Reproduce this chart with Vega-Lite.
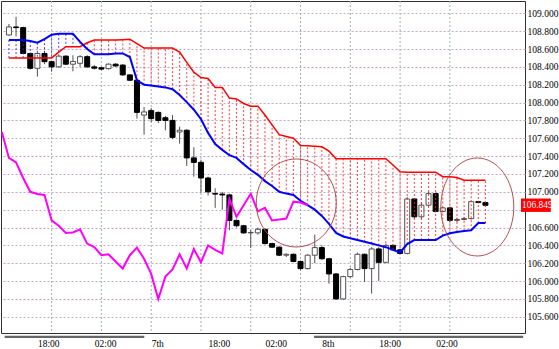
{
  "$schema": "https://vega.github.io/schema/vega-lite/v6.json",
  "width": 524,
  "height": 332,
  "autosize": "none",
  "padding": {"left": 1, "top": 1, "right": 34, "bottom": 16},
  "background": "white",
  "config": {
    "view": {"stroke": "#303030", "strokeWidth": 1},
    "axis": {"labelFont": "Liberation Serif", "labelFontSize": 9.5, "labelColor": "#000000"}
  },
  "datasets": {
    "candles": [
      {"i":0,"o":108.757,"h":108.88,"l":108.75,"c":108.847,"a":108.70,"b":108.50},
      {"i":1,"o":108.847,"h":108.96,"l":108.74,"c":108.84,"a":108.70,"b":108.50},
      {"i":2,"o":108.84,"h":108.85,"l":108.54,"c":108.55,"a":108.70,"b":108.50},
      {"i":3,"o":108.55,"h":108.56,"l":108.37,"c":108.384,"a":108.69,"b":108.50},
      {"i":4,"o":108.384,"h":108.56,"l":108.29,"c":108.55,"a":108.67,"b":108.50},
      {"i":5,"o":108.55,"h":108.58,"l":108.43,"c":108.458,"a":108.71,"b":108.50},
      {"i":6,"o":108.458,"h":108.47,"l":108.345,"c":108.40,"a":108.76,"b":108.50},
      {"i":7,"o":108.40,"h":108.54,"l":108.39,"c":108.52,"a":108.77,"b":108.565},
      {"i":8,"o":108.52,"h":108.53,"l":108.42,"c":108.43,"a":108.77,"b":108.626},
      {"i":9,"o":108.43,"h":108.53,"l":108.35,"c":108.46,"a":108.77,"b":108.626},
      {"i":10,"o":108.44,"h":108.53,"l":108.40,"c":108.514,"a":108.68,"b":108.626},
      {"i":11,"o":108.514,"h":108.53,"l":108.39,"c":108.40,"a":108.60,"b":108.67},
      {"i":12,"o":108.40,"h":108.42,"l":108.37,"c":108.385,"a":108.54,"b":108.70},
      {"i":13,"o":108.39,"h":108.40,"l":108.36,"c":108.375,"a":108.54,"b":108.70},
      {"i":14,"o":108.38,"h":108.44,"l":108.37,"c":108.43,"a":108.54,"b":108.70},
      {"i":15,"o":108.43,"h":108.44,"l":108.40,"c":108.41,"a":108.55,"b":108.70},
      {"i":16,"o":108.42,"h":108.43,"l":108.30,"c":108.31,"a":108.55,"b":108.705},
      {"i":17,"o":108.31,"h":108.32,"l":108.24,"c":108.25,"a":108.51,"b":108.71},
      {"i":18,"o":108.25,"h":108.26,"l":107.82,"c":107.89,"a":108.25,"b":108.66},
      {"i":19,"o":107.86,"h":107.95,"l":107.64,"c":107.895,"a":108.20,"b":108.61},
      {"i":20,"o":107.91,"h":107.94,"l":107.78,"c":107.82,"a":108.19,"b":108.61},
      {"i":21,"o":107.89,"h":107.90,"l":107.77,"c":107.80,"a":108.18,"b":108.61},
      {"i":22,"o":107.83,"h":107.85,"l":107.69,"c":107.80,"a":108.17,"b":108.61},
      {"i":23,"o":107.80,"h":107.86,"l":107.59,"c":107.61,"a":108.15,"b":108.61},
      {"i":24,"o":107.67,"h":107.73,"l":107.54,"c":107.69,"a":108.085,"b":108.565},
      {"i":25,"o":107.69,"h":107.70,"l":107.29,"c":107.38,"a":108.005,"b":108.45},
      {"i":26,"o":107.38,"h":107.50,"l":107.17,"c":107.33,"a":107.92,"b":108.34},
      {"i":27,"o":107.33,"h":107.36,"l":106.99,"c":107.155,"a":107.815,"b":108.28},
      {"i":28,"o":107.155,"h":107.17,"l":106.96,"c":107.0,"a":107.66,"b":108.27},
      {"i":29,"o":106.98,"h":107.04,"l":106.82,"c":106.975,"a":107.535,"b":108.17},
      {"i":30,"o":106.975,"h":107.0,"l":106.80,"c":106.965,"a":107.47,"b":108.17},
      {"i":31,"o":106.965,"h":106.98,"l":106.57,"c":106.68,"a":107.41,"b":108.05},
      {"i":32,"o":106.68,"h":106.69,"l":106.60,"c":106.62,"a":107.38,"b":108.04},
      {"i":33,"o":106.62,"h":106.63,"l":106.53,"c":106.54,"a":107.31,"b":107.99},
      {"i":34,"o":106.54,"h":106.57,"l":106.37,"c":106.545,"a":107.245,"b":107.96},
      {"i":35,"o":106.54,"h":106.60,"l":106.52,"c":106.58,"a":107.19,"b":107.96},
      {"i":36,"o":106.58,"h":106.59,"l":106.41,"c":106.42,"a":107.12,"b":107.86},
      {"i":37,"o":106.42,"h":106.43,"l":106.37,"c":106.38,"a":107.065,"b":107.75},
      {"i":38,"o":106.38,"h":106.39,"l":106.28,"c":106.29,"a":107.0,"b":107.64},
      {"i":39,"o":106.29,"h":106.31,"l":106.27,"c":106.30,"a":106.98,"b":107.62},
      {"i":40,"o":106.30,"h":106.31,"l":106.21,"c":106.22,"a":106.965,"b":107.60},
      {"i":41,"o":106.22,"h":106.23,"l":106.12,"c":106.14,"a":106.90,"b":107.52},
      {"i":42,"o":106.14,"h":106.30,"l":106.13,"c":106.29,"a":106.85,"b":107.515},
      {"i":43,"o":106.29,"h":106.52,"l":106.20,"c":106.375,"a":106.80,"b":107.51},
      {"i":44,"o":106.375,"h":106.40,"l":106.24,"c":106.25,"a":106.73,"b":107.505},
      {"i":45,"o":106.25,"h":106.26,"l":105.97,"c":106.08,"a":106.64,"b":107.455},
      {"i":46,"o":106.08,"h":106.09,"l":105.79,"c":105.80,"a":106.54,"b":107.37},
      {"i":47,"o":105.80,"h":106.06,"l":105.79,"c":106.05,"a":106.50,"b":107.37},
      {"i":48,"o":106.05,"h":106.15,"l":106.04,"c":106.13,"a":106.48,"b":107.37},
      {"i":49,"o":106.13,"h":106.32,"l":106.12,"c":106.30,"a":106.46,"b":107.37},
      {"i":50,"o":106.30,"h":106.31,"l":105.99,"c":106.14,"a":106.44,"b":107.37},
      {"i":51,"o":106.14,"h":106.38,"l":105.86,"c":106.36,"a":106.42,"b":107.37},
      {"i":52,"o":106.36,"h":106.38,"l":106.00,"c":106.21,"a":106.40,"b":107.37},
      {"i":53,"o":106.21,"h":106.42,"l":106.20,"c":106.40,"a":106.38,"b":107.37},
      {"i":54,"o":106.40,"h":106.41,"l":106.34,"c":106.35,"a":106.35,"b":107.30},
      {"i":55,"o":106.35,"h":106.36,"l":106.30,"c":106.31,"a":106.32,"b":107.225},
      {"i":56,"o":106.31,"h":106.94,"l":106.30,"c":106.92,"a":106.415,"b":107.22},
      {"i":57,"o":106.92,"h":106.93,"l":106.70,"c":106.72,"a":106.46,"b":107.22},
      {"i":58,"o":106.72,"h":106.88,"l":106.70,"c":106.85,"a":106.46,"b":107.22},
      {"i":59,"o":106.85,"h":107.00,"l":106.84,"c":106.98,"a":106.46,"b":107.22},
      {"i":60,"o":106.98,"h":106.99,"l":106.77,"c":106.78,"a":106.46,"b":107.22},
      {"i":61,"o":106.78,"h":106.83,"l":106.77,"c":106.82,"a":106.51,"b":107.17},
      {"i":62,"o":106.82,"h":106.83,"l":106.66,"c":106.68,"a":106.535,"b":107.17},
      {"i":63,"o":106.68,"h":106.71,"l":106.66,"c":106.69,"a":106.55,"b":107.16},
      {"i":64,"o":106.69,"h":106.72,"l":106.68,"c":106.70,"a":106.56,"b":107.13},
      {"i":65,"o":106.70,"h":106.90,"l":106.69,"c":106.89,"a":106.57,"b":107.13},
      {"i":66,"o":106.89,"h":106.90,"l":106.87,"c":106.88,"a":106.65,"b":107.13},
      {"i":67,"o":106.88,"h":106.89,"l":106.84,"c":106.849,"a":106.65,"b":107.13}
    ],
    "lag": [
      {"j":-1,"v":107.67},{"j":0,"v":107.38},{"j":1,"v":107.33},{"j":2,"v":107.155},{"j":3,"v":107.0},
      {"j":4,"v":106.975},{"j":5,"v":106.965},{"j":6,"v":106.68},{"j":7,"v":106.62},{"j":8,"v":106.54},
      {"j":9,"v":106.545},{"j":10,"v":106.58},{"j":11,"v":106.42},{"j":12,"v":106.38},{"j":13,"v":106.29},
      {"j":14,"v":106.30},{"j":15,"v":106.22},{"j":16,"v":106.14},{"j":17,"v":106.29},{"j":18,"v":106.375},
      {"j":19,"v":106.25},{"j":20,"v":106.08},{"j":21,"v":105.80},{"j":22,"v":106.05},{"j":23,"v":106.13},
      {"j":24,"v":106.30},{"j":25,"v":106.14},{"j":26,"v":106.36},{"j":27,"v":106.21},{"j":28,"v":106.40},
      {"j":29,"v":106.35},{"j":30,"v":106.31},{"j":31,"v":106.92},{"j":32,"v":106.72},{"j":33,"v":106.85},
      {"j":34,"v":106.98},{"j":35,"v":106.78},{"j":36,"v":106.82},{"j":37,"v":106.68},{"j":38,"v":106.69},
      {"j":39,"v":106.70},{"j":40,"v":106.89},{"j":41,"v":106.88},{"j":42,"v":106.849}
    ]
  },
  "layer": [
    {
      "data": {"values": [{"day": "6th", "start": -0.6, "end": 19.03}, {"day": "8th", "start": 42.9, "end": 72.3}]},
      "mark": {"type": "rect", "color": "#666666"},
      "encoding": {
        "x": {
          "field": "start", "type": "quantitative",
          "scale": {"domain": [-0.414, 71.86], "nice": false, "zero": false},
          "axis": {
            "title": null, "orient": "bottom", "values": [4, 12, 20, 28, 36, 44, 52, 60], "tickCount": 20,
            "grid": false, "ticks": false, "domain": false, "labelAlign": "left", "labelBaseline": "top",
            "labelPadding": 5, "labelOverlap": false, "labelFlush": false,
            "labelExpr": "datum.value == 20 ? '7th' : datum.value == 44 ? '8th' : (datum.value % 24 == 4 ? '18:00' : '02:00')"
          }
        },
        "x2": {"field": "end"},
        "y": {
          "datum": 105.388, "type": "quantitative",
          "scale": {"domain": [105.4183, 109.1378], "nice": false, "zero": false},
          "axis": {
            "title": null, "orient": "right", "tickCount": 40,
            "values": [105.6, 105.8, 106.0, 106.2, 106.4, 106.6, 106.8, 107.0, 107.2, 107.4, 107.6, 107.8, 108.0, 108.2, 108.4, 108.6, 108.8, 109.0],
            "grid": true, "gridColor": "#c0a8c8", "gridDash": [2, 2], "gridWidth": 1,
            "ticks": false, "domain": false, "labelPadding": 2, "labelOverlap": false, "labelFlush": false,
            "labelBaseline": "middle",
            "labelExpr": "abs(datum.value - 106.8) < 0.001 ? '' : format(datum.value, '.3f')"
          }
        },
        "y2": {"datum": 105.362}
      }
    },
    {
      "data": {"values": [{"g": 6}, {"g": 13}, {"g": 20}, {"g": 27}, {"g": 34}, {"g": 41}, {"g": 48}, {"g": 55}, {"g": 62}]},
      "mark": {"type": "rule", "color": "#9ab0b8", "strokeDash": [2, 2], "strokeWidth": 1},
      "encoding": {"x": {"field": "g", "type": "quantitative"}}
    },
    {
      "data": {"name": "candles"},
      "mark": {"type": "rule", "color": "#505050", "strokeWidth": 1},
      "encoding": {
        "x": {"field": "i", "type": "quantitative"},
        "y": {"field": "l", "type": "quantitative"},
        "y2": {"field": "h"}
      }
    },
    {
      "data": {"name": "candles"},
      "mark": {"type": "bar", "size": 5, "strokeWidth": 1},
      "encoding": {
        "x": {"field": "i", "type": "quantitative"},
        "y": {"field": "o", "type": "quantitative"},
        "y2": {"field": "c"},
        "fill": {"condition": {"test": "datum.c >= datum.o", "value": "#ffffff"}, "value": "#000000"},
        "stroke": {"condition": {"test": "datum.c >= datum.o", "value": "#505050"}, "value": "#000000"}
      }
    },
    {
      "data": {"name": "candles"},
      "mark": {"type": "rule", "strokeDash": [2, 2], "strokeWidth": 1, "opacity": 0.85},
      "encoding": {
        "x": {"field": "i", "type": "quantitative"},
        "y": {"field": "a", "type": "quantitative"},
        "y2": {"field": "b"},
        "color": {"condition": {"test": "datum.b >= datum.a", "value": "#ff2020"}, "value": "#2020ff"}
      }
    },
    {
      "data": {"name": "candles"},
      "mark": {"type": "line", "color": "#ff0000", "strokeWidth": 1.5},
      "encoding": {
        "x": {"field": "i", "type": "quantitative"},
        "y": {"field": "b", "type": "quantitative"}
      }
    },
    {
      "data": {"name": "candles"},
      "mark": {"type": "line", "color": "#0000ff", "strokeWidth": 2},
      "encoding": {
        "x": {"field": "i", "type": "quantitative"},
        "y": {"field": "a", "type": "quantitative"}
      }
    },
    {
      "data": {"name": "lag"},
      "mark": {"type": "line", "color": "#ff00ff", "strokeWidth": 2, "clip": true},
      "encoding": {
        "x": {"field": "j", "type": "quantitative"},
        "y": {"field": "v", "type": "quantitative"}
      }
    },
    {
      "data": {"values": [{"i": 40.4, "p": 106.875}]},
      "mark": {"type": "point", "filled": false, "stroke": "#b05050", "strokeWidth": 1, "opacity": 1, "size": 7744,
               "shape": "M -0.909 0 A 0.909 1 0 1 0 0.909 0 A 0.909 1 0 1 0 -0.909 0 Z"},
      "encoding": {
        "x": {"field": "i", "type": "quantitative"},
        "y": {"field": "p", "type": "quantitative"}
      }
    },
    {
      "data": {"values": [{"i": 65.86, "p": 106.83}]},
      "mark": {"type": "point", "filled": false, "stroke": "#b05050", "strokeWidth": 1, "opacity": 1, "size": 9604,
               "shape": "M -0.745 0 A 0.745 1 0 1 0 0.745 0 A 0.745 1 0 1 0 -0.745 0 Z"},
      "encoding": {
        "x": {"field": "i", "type": "quantitative"},
        "y": {"field": "p", "type": "quantitative"}
      }
    },
    {
      "data": {"values": [{"t": "106.849"}]},
      "mark": {"type": "rect", "color": "#ff0000"},
      "encoding": {
        "x": {"datum": 72.0, "type": "quantitative"},
        "x2": {"datum": 76.2},
        "y": {"datum": 106.925, "type": "quantitative"},
        "y2": {"datum": 106.775}
      }
    },
    {
      "data": {"values": [{"t": "106.849"}]},
      "mark": {"type": "text", "color": "#ffffff", "align": "left", "baseline": "middle", "font": "Liberation Serif", "fontSize": 9.5, "dx": 1},
      "encoding": {
        "x": {"datum": 72.0, "type": "quantitative"},
        "y": {"datum": 106.849, "type": "quantitative"},
        "text": {"field": "t"}
      }
    }
  ]
}
